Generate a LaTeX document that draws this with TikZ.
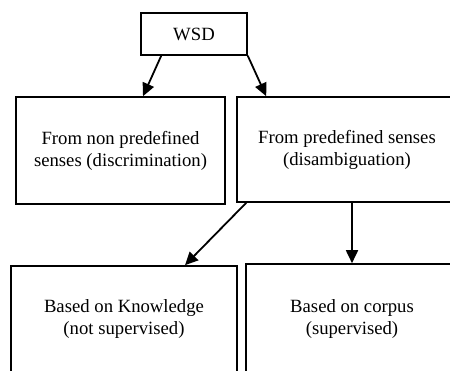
\documentclass[tikz,border=0pt]{standalone}
\usepackage{fontspec}
\setmainfont{Liberation Serif}
\usetikzlibrary{arrows.meta}
\tikzset{
    RA1/.style ={rectangle,minimum width = 106pt, minimum height =42pt, draw, line width=1.6pt},
    RA2/.style ={rectangle, align=center, inner sep=0pt, draw, line width=1.6pt},
    AR/.style ={-{Triangle[length=13pt,width=12pt]}, line width=1.8pt}
}
\begin{document}
\begin{tikzpicture}[x=1pt,y=-1pt,font=\fontsize{18.7}{22}\selectfont]
        \clip (0,0) rectangle (450,370);
        \node[RA1] (wsd) at (194,34) {WSD};
        \node[RA2,minimum width=209pt,minimum height=107pt] (nonpre) at (120.5,150.5)
            {From non predefined\\senses (discrimination)};
        \node[RA2,minimum width=220pt,minimum height=105pt] (pre) at (347,149.5)
            {From predefined senses\\(disambiguation)};
        \node[RA2,minimum width=226pt,minimum height=106pt] (know) at (124,319)
            {Based on Knowledge\\(not supervised)};
        \node[RA2,minimum width=212pt,minimum height=110pt] (corpus) at (352,319)
            {Based on corpus\\(supervised)};
        % arrows
        \draw[AR] ([xshift=21pt]wsd.south west) -- ([xshift=22.5pt]nonpre.north);
        \draw[AR] (wsd.south east) -- ([xshift=30pt]pre.north west);
        \draw[AR] ([xshift=10pt]pre.south west) -- ([xshift=61pt]know.north);
        \draw[AR] (corpus.north |- pre.south) -- (corpus.north);
    \end{tikzpicture}
\end{document}
